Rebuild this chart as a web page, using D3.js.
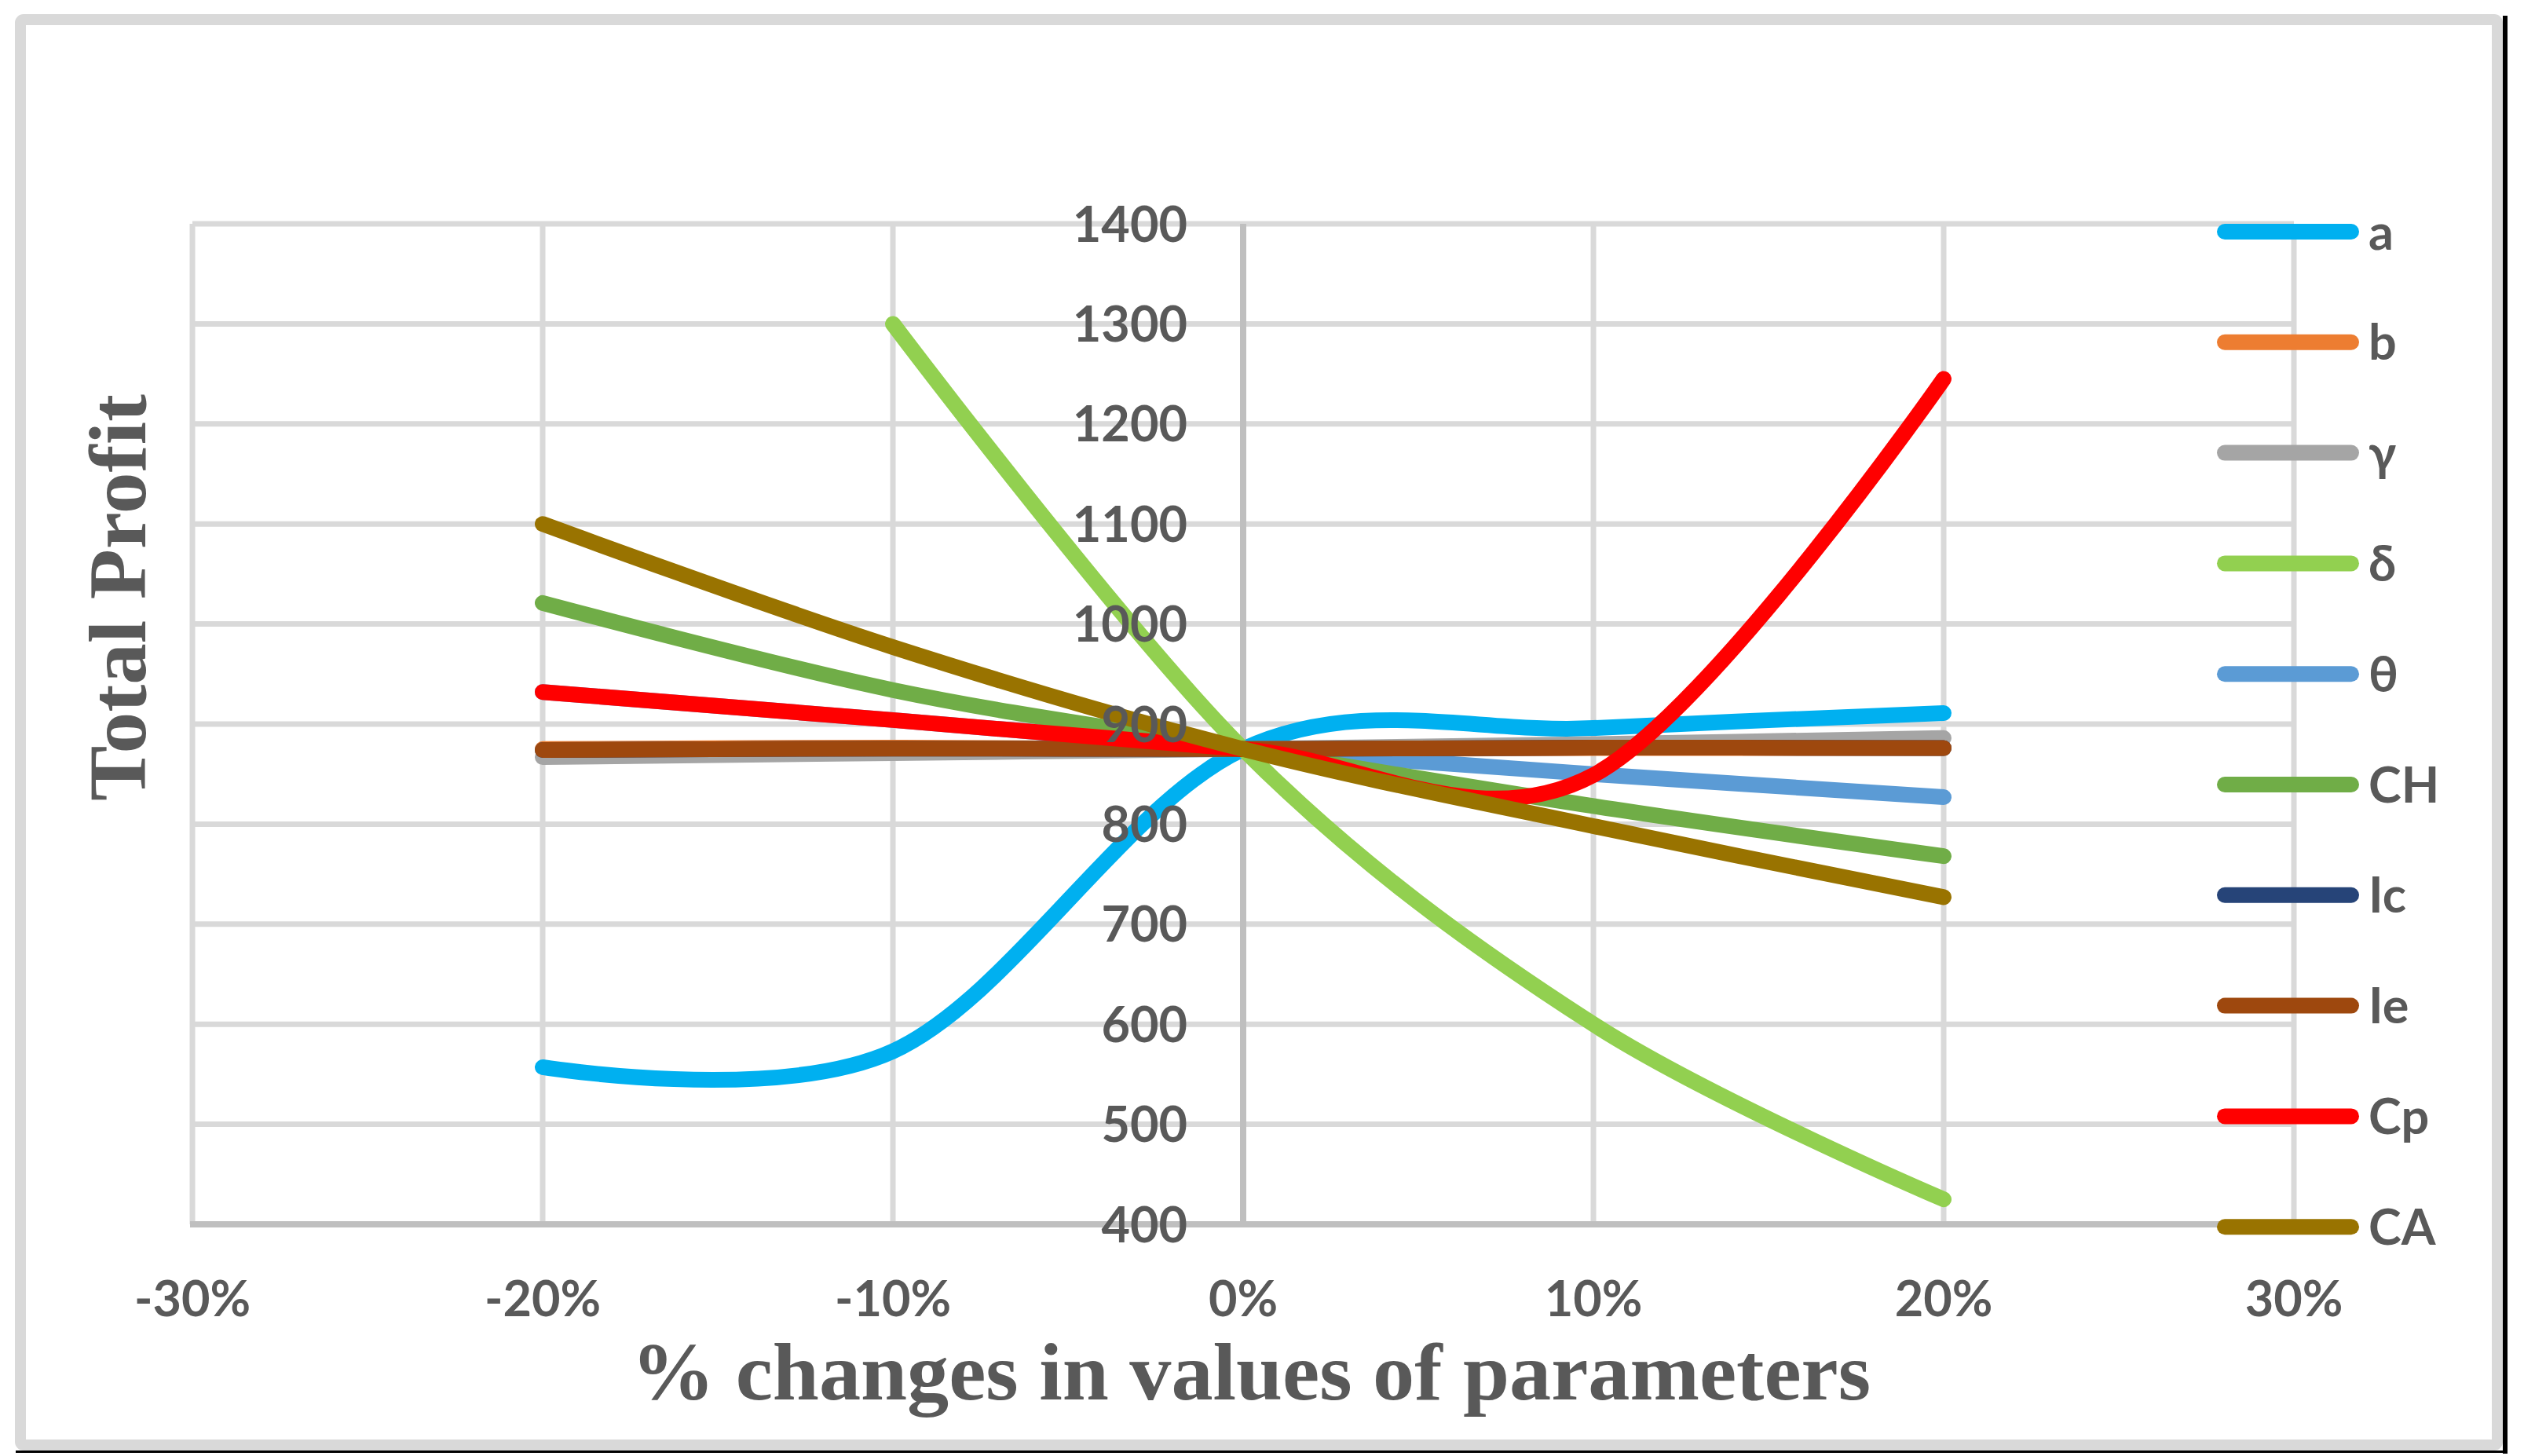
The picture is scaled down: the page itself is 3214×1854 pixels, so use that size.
<!DOCTYPE html>
<html>
<head>
<meta charset="utf-8">
<script src="https://cdn.jsdelivr.net/npm/d3@7"></script>
<style>
  html, body { margin: 0; padding: 0; background: #ffffff; }
  svg { display: block; }
</style>
</head>
<body>
<svg id="chart" width="3214" height="1854"></svg>
<script>
// ---- data ----
const xValues = [-0.2, -0.1, 0, 0.1, 0.2];
const xTicks = [-0.3, -0.2, -0.1, 0, 0.1, 0.2, 0.3];
const yTicks = [400, 500, 600, 700, 800, 900, 1000, 1100, 1200, 1300, 1400];
const seriesNames = ["a", "b", "γ", "δ", "θ", "CH", "Ic", "Ie", "Cp", "CA"];
const seriesColors = ["#00B0F0", "#ED7D31", "#A5A5A5", "#92D050", "#5B9BD5",
                      "#70AD47", "#264478", "#9E480E", "#FF0000", "#997300"];
const aVals     = [557, 573, 875, 896, 911];
const bVals     = [875, 876.5, 875, 876, 876];
const gammaVals = [867, 871, 875, 880, 886];
const deltaVals = [null, 1300, 875, 600, 425];
const thetaVals = [932, 904, 875, 850, 827];
const chVals    = [1021, 934, 875, 818, 768];
const icVals    = [874, 875.5, 875, 876.5, 876];
const ieVals    = [874, 875.5, 875, 876.5, 876];
const cpVals    = [932, 904, 875, 849, 1245];
const caVals    = [1100, 977, 875, 798, 727];
const seriesValues = [aVals, bVals, gammaVals, deltaVals, thetaVals,
                      chVals, icVals, ieVals, cpVals, caVals];
const xTitle = "% changes in values of parameters";
const yTitle = "Total Profit";

// ---- layout ----
const svg = d3.select("#chart");
const x = d3.scaleLinear().domain([-0.3, 0.3]).range([245, 2921]);
const y = d3.scaleLinear().domain([400, 1400]).range([1559, 285]);
const textColor = "#595959";
const tickFont = "Lato, 'Open Sans', sans-serif";
const serifFont = "'Liberation Serif', 'DejaVu Serif', serif";

// outer frame
svg.append("rect").attr("x", 3187).attr("y", 20).attr("width", 6).attr("height", 1831).attr("fill", "#000");
svg.append("rect").attr("x", 20).attr("y", 1847).attr("width", 3173).attr("height", 3).attr("fill", "#000");
svg.append("rect").attr("x", 26).attr("y", 25).attr("width", 3154).attr("height", 1815)
  .attr("rx", 4).attr("fill", "none").attr("stroke", "#D9D9D9").attr("stroke-width", 14);

// gridlines
const grid = svg.append("g");
grid.selectAll("line.h").data(yTicks.filter(v => v !== 400)).join("line")
  .attr("x1", x(-0.3)).attr("x2", x(0.3))
  .attr("y1", d => y(d)).attr("y2", d => y(d))
  .attr("stroke", "#D9D9D9").attr("stroke-width", 7);
grid.selectAll("line.v").data(xTicks.filter(v => v !== 0)).join("line")
  .attr("x1", d => x(d)).attr("x2", d => x(d))
  .attr("y1", y(1400)).attr("y2", y(400))
  .attr("stroke", "#D9D9D9").attr("stroke-width", 7);

// axis lines
svg.append("line").attr("x1", x(-0.3) - 3).attr("x2", x(0.3) + 3)
  .attr("y1", y(400)).attr("y2", y(400))
  .attr("stroke", "#BFBFBF").attr("stroke-width", 8);
svg.append("line").attr("x1", x(0)).attr("x2", x(0))
  .attr("y1", y(1400)).attr("y2", y(400))
  .attr("stroke", "#BFBFBF").attr("stroke-width", 8);

// series
const line = d3.line()
  .defined(d => d[1] != null)
  .x(d => x(d[0]))
  .y(d => y(d[1]))
  .curve(d3.curveCardinal.tension(0));

const sg = svg.append("g");
seriesValues.forEach((vals, i) => {
  const pts = xValues.map((xv, j) => [xv, vals[j]]).filter(p => p[1] != null);
  sg.append("path")
    .attr("d", line(pts))
    .attr("fill", "none")
    .attr("stroke", seriesColors[i])
    .attr("stroke-width", 20)
    .attr("stroke-linecap", "round")
    .attr("stroke-linejoin", "round");
});

// y tick labels (on top)
svg.append("g").selectAll("text").data(yTicks).join("text")
  .attr("x", 1512).attr("y", d => y(d)).attr("dy", "0.36em")
  .attr("text-anchor", "end")
  .attr("font-family", tickFont).attr("font-weight", 700).attr("font-size", 63)
  .attr("fill", textColor)
  .text(d => d);

// x tick labels
svg.append("g").selectAll("text").data(xTicks).join("text")
  .attr("x", d => x(d)).attr("y", 1676)
  .attr("text-anchor", "middle")
  .attr("font-family", tickFont).attr("font-weight", 700).attr("font-size", 63)
  .attr("fill", textColor)
  .text(d => d3.format(".0%")(d).replace("−", "-"));

// axis titles
svg.append("text")
  .attr("x", 1593).attr("y", 1782)
  .attr("text-anchor", "middle")
  .attr("font-family", serifFont).attr("font-weight", 700).attr("font-size", 104)
  .attr("fill", textColor)
  .attr("textLength", 1578).attr("lengthAdjust", "spacingAndGlyphs")
  .text(xTitle);

svg.append("text")
  .attr("transform", "translate(185,761) rotate(-90)")
  .attr("text-anchor", "middle")
  .attr("font-family", serifFont).attr("font-weight", 700).attr("font-size", 104)
  .attr("fill", textColor)
  .attr("textLength", 518).attr("lengthAdjust", "spacingAndGlyphs")
  .text(yTitle);

// legend
const lg = svg.append("g");
seriesNames.forEach((name, i) => {
  const ly = 295 + i * 140.8;
  lg.append("line")
    .attr("x1", 2833).attr("x2", 2994).attr("y1", ly).attr("y2", ly)
    .attr("stroke", seriesColors[i]).attr("stroke-width", 20)
    .attr("stroke-linecap", "round");
  lg.append("text")
    .attr("x", 3016).attr("y", ly).attr("dy", "0.36em")
    .attr("font-family", tickFont).attr("font-weight", 700).attr("font-size", 63)
    .attr("fill", textColor)
    .text(name);
});
</script>
</body>
</html>
